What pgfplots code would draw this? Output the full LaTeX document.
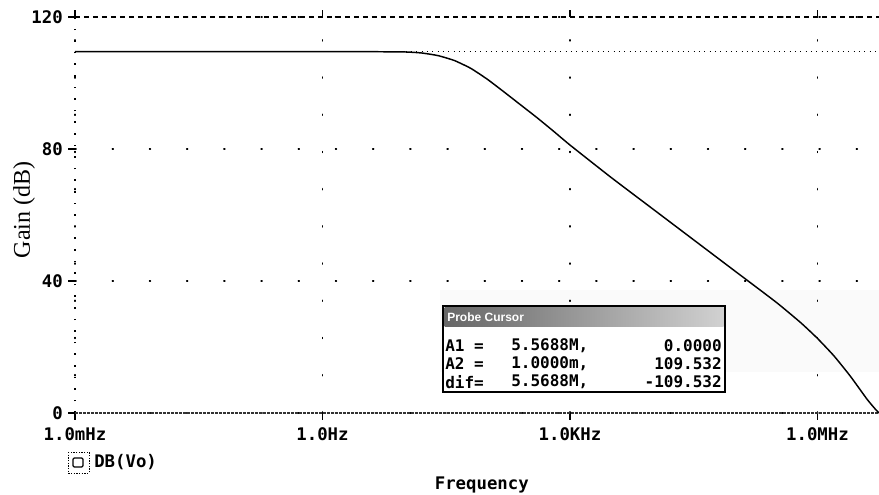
\documentclass[border=0pt]{standalone}
\usepackage{pgfplots}
\pgfplotsset{compat=1.18}
\usepackage{fontspec}
\setmainfont{Liberation Serif}
\newfontfamily\psmono{DejaVu Sans Mono}
\newfontfamily\lsans{Liberation Sans}
\begin{document}
\begin{tikzpicture}
\useasboundingbox (0,0) rectangle (659.25pt,371.25pt);
\begin{scope}[x=0.75pt,y=-0.75pt,yshift=371.25pt]
\fill[black!2] (440,290) rectangle (879,372);
\end{scope}
\begin{axis}[
  at={(56.25pt,61.5pt)}, anchor=south west,
  scale only axis, width=603pt, height=297pt,
  xmode=log, xmin=1e-3, xmax=5.5688e6, ymin=0, ymax=120,
  clip=false,
  axis line style={draw=none},
  xtick={1e-3,1,1e3,1e6}, xticklabels={1.0mHz,1.0Hz,1.0KHz,1.0MHz},
  ytick={0,40,80,120}, yticklabels={0,40,80,120},
  minor xtick={},
  tick style={black, line width=0.8pt},
  major tick length=5pt, tick align=outside,
  tick label style={font=\psmono\bfseries\fontsize{13}{13}\selectfont},
  xticklabel style={anchor=north, inner sep=0pt, yshift=-6pt},
  yticklabel style={anchor=east, inner sep=0pt, xshift=-4pt},
  grid=major,
  major grid style={black, line width=0.9pt, dash pattern=on 0.9pt off 27pt, line cap=round},
  xlabel={Frequency},
  xlabel style={font=\psmono\bfseries\fontsize{13}{13}\selectfont, at={(axis description cs:0.506,-0.182)}, anchor=center},
  ylabel={Gain (dB)},
  ylabel style={font=\fontsize{18}{18}\selectfont, at={(axis description cs:-0.0634,0.513)}, anchor=center},
]
\draw[line width=0.8pt, dash pattern=on 0.8pt off 3.2pt] (axis cs:1e-3,109.532) -- (axis cs:5.5688e6,109.532);
\draw[line width=0.9pt, dash pattern=on 3.75pt off 3pt] (axis cs:1e-3,120) -- (axis cs:5.5688e6,120);
\draw[line width=1pt, dash pattern=on 1.2pt off 7.5pt] (axis cs:1e-3,0) -- (axis cs:1e-3,120);
\draw[line width=0.8pt, black!80, dash pattern=on 2pt off 1pt] (axis cs:1e-3,0) -- (axis cs:5.5688e6,0);
\addplot[black, line width=1.1pt, smooth, tension=0.3] coordinates {
(0.001,109.53) (0.1,109.53) (1,109.53) (3.162,109.5) (10,109.4) (15.85,109.1)
(25.12,108.3) (39.81,106.8) (63.10,104.4) (100,101.1) (158.5,97.3) (251.2,93.4)
(398.1,89.5) (631.0,85.4) (1000,81.2) (3162,71.35) (10000,61.9) (31623,52.45)
(100000,43.0) (316228,33.55) (630957,27.3) (1000000,22.6) (1584893,17.3)
(2511886,11.1) (3981072,4.2) (5011872,1.2) (5568800,0.0)
};
\end{axis}
\begin{scope}[x=0.75pt,y=-0.75pt,yshift=371.25pt]
% legend
\draw[line width=0.6pt, dash pattern=on 1pt off 1pt] (68,452) rectangle (89,473);
\draw[line width=0.9pt, rounded corners=1pt] (73,458) rectangle (83,467);
\node[anchor=west, inner sep=0pt, font=\psmono\bfseries\fontsize{13}{13}\selectfont] at (94,462) {DB(Vo)};
% probe cursor box
\fill[white] (443,306) rectangle (725,392);
\shade[left color=black!60, right color=black!18] (444.5,307.5) rectangle (723.5,327);
\draw[line width=1.2pt] (443,306) rectangle (725,392);
\node[anchor=west, inner sep=0pt, text=white, font=\lsans\bfseries\fontsize{9}{9}\selectfont] at (447,317) {Probe Cursor};
\begin{scope}[every node/.style={inner sep=0pt, font=\psmono\bfseries\fontsize{12}{12}\selectfont}]
\node[anchor=west] at (445,346) {A1 =};
\node[anchor=west] at (511,346) {5.5688M,};
\node[anchor=east] at (722,346) {0.0000};
\node[anchor=west] at (445,364) {A2 =};
\node[anchor=west] at (511,364) {1.0000m,};
\node[anchor=east] at (722,364) {109.532};
\node[anchor=west] at (445,382) {dif=};
\node[anchor=west] at (511,382) {5.5688M,};
\node[anchor=east] at (722,382) {-109.532};
\end{scope}
\end{scope}
\end{tikzpicture}
\end{document}
